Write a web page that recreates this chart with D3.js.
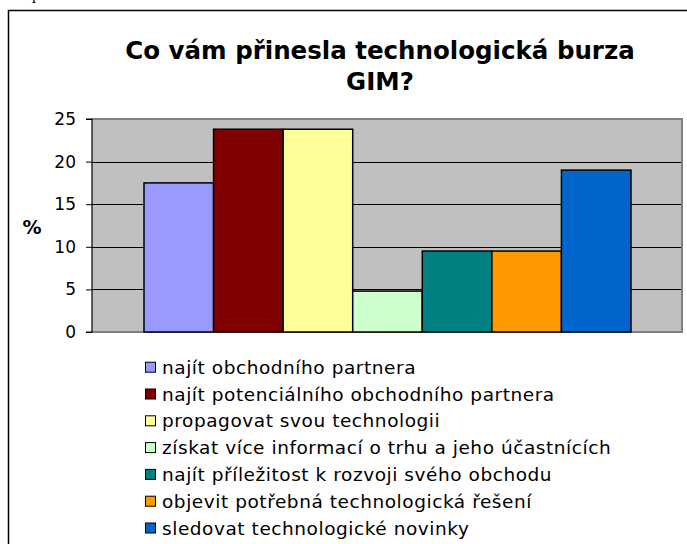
<!DOCTYPE html>
<html><head><meta charset="utf-8">
<script src="https://cdn.jsdelivr.net/npm/d3@7"></script>
<style>body{margin:0;background:#fff}svg{display:block}</style>
</head><body>
<script>
const categories = ["najít obchodního partnera","najít potenciálního obchodního partnera","propagovat svou technologii","získat více informací o trhu a jeho účastnících","najít příležitost k rozvoji svého obchodu","objevit potřebná technologická řešení","sledovat technologické novinky"];
const values = [17.5, 23.8, 23.8, 4.8, 9.5, 9.5, 19.0];
const colors = ["#9999FF","#800000","#FFFF99","#CCFFCC","#008080","#FF9900","#0066CC"];
const yTicks = [0,5,10,15,20,25];
const titleLines = ["Co vám přinesla technologická burza","GIM?"];
const yLabel = "%";

const W=687,H=544;
const svg=d3.select("body").append("svg").attr("width",W).attr("height",H);

// fragment of text above the frame
svg.append("text").attr("x",32).attr("y",-1).attr("font-family","Liberation Serif").attr("font-size",16).text("p");

// outer frame
svg.append("rect").attr("x",8.5).attr("y",10.5).attr("width",720).attr("height",600)
  .attr("fill","#fff").attr("stroke","#000").attr("stroke-width",1.5);

const plot={l:92,r:682,t:119,b:332};
const y=d3.scaleLinear().domain([0,25]).range([plot.b,plot.t]);
const x=d3.scaleBand().domain(categories).range([144,631]).paddingInner(0).paddingOuter(0);

// plot background
svg.append("rect").attr("x",plot.l).attr("y",plot.t).attr("width",plot.r-plot.l).attr("height",plot.b-plot.t)
  .attr("fill","#C0C0C0");
// gridlines
svg.append("g").selectAll("line").data(yTicks.filter(d=>d>0&&d<25)).join("line")
  .attr("x1",plot.l).attr("x2",plot.r).attr("y1",d=>Math.round(y(d))+0.5).attr("y2",d=>Math.round(y(d))+0.5)
  .attr("stroke","#000").attr("stroke-width",1);
// plot border
svg.append("path").attr("d",`M${plot.l},${plot.t} H${plot.r} V${plot.b} H${plot.l}`)
  .attr("fill","none").attr("stroke","#808080").attr("stroke-width",2);

// bars
svg.append("g").selectAll("rect").data(categories).join("rect")
  .attr("x",d=>x(d)).attr("width",x.bandwidth())
  .attr("y",(d,i)=>y(values[i])).attr("height",(d,i)=>y(0)-y(values[i]))
  .attr("fill",(d,i)=>colors[i]).attr("stroke","#000").attr("stroke-width",1.5);

// y axis
const ax=d3.axisLeft(y).tickValues(yTicks).tickSize(6).tickPadding(10).tickFormat(d3.format("d"));
const g=svg.append("g").attr("transform",`translate(${plot.l},0)`).call(ax);
g.select(".domain").attr("stroke","#000").attr("stroke-width",1.2).attr("d",`M-6,${plot.t}H0V${plot.b}H-6`);
g.selectAll(".tick line").attr("stroke","#000");
g.selectAll(".tick text").attr("font-family","DejaVu Sans").attr("font-size",17).attr("fill","#000");

// y label
svg.append("text").attr("x",32).attr("y",234).attr("text-anchor","middle")
  .attr("font-family","DejaVu Sans").attr("font-weight","bold").attr("font-size",19).text(yLabel);

// title
svg.append("g").selectAll("text").data(titleLines).join("text")
  .attr("x",380).attr("y",(d,i)=>59+i*31).attr("text-anchor","middle")
  .attr("font-family","DejaVu Sans")
  .attr("font-weight","bold").attr("font-size",24.5).text(d=>d);

// legend
const lg=svg.append("g").selectAll("g").data(categories).join("g")
  .attr("transform",(d,i)=>`translate(145,${366.7+i*26.8})`);
lg.append("rect").attr("x",0.5).attr("y",-4.5).attr("width",10).attr("height",10)
  .attr("fill",(d,i)=>colors[i]).attr("stroke","#000").attr("stroke-width",1);
lg.append("text").attr("x",17).attr("y",7).attr("font-family","DejaVu Sans").attr("font-size",18.5)
  .attr("letter-spacing",0.55).attr("fill","#000").text(d=>d);
</script>
</body></html>
